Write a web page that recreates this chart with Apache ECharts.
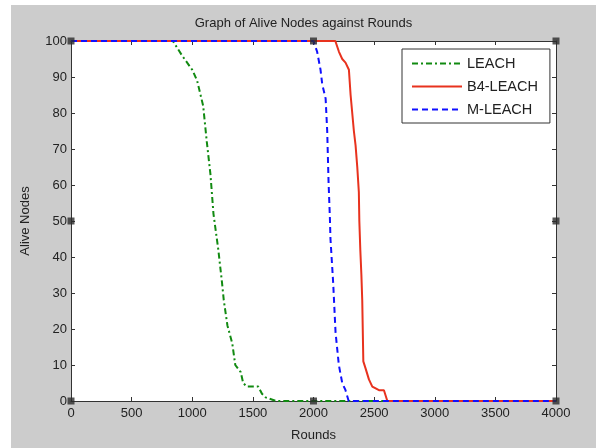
<!DOCTYPE html>
<html>
<head>
    <meta charset="UTF-8">
    <title>Graph of Alive Nodes against Rounds</title>
    <script src="https://cdn.jsdelivr.net/npm/echarts@6/dist/echarts.min.js"></script>
    <style>
        body { margin: 0; background: #ffffff; }
        #main { position: absolute; left: 11px; top: 5px; width: 585px; height: 443px; }
    </style>
</head>
<body>
    <div id="main"></div>
    <script>
        // Data: [round, alive nodes]
        var leach = [[0, 100], [840, 100], [915, 96], [1000, 92], [1040, 89], [1090, 82], [1120, 72],
            [1150, 63], [1175, 52], [1215, 42], [1245, 33], [1260, 28], [1290, 21], [1330, 16],
            [1355, 10], [1400, 8], [1420, 5], [1450, 4], [1545, 4], [1575, 2], [1605, 1],
            [1690, 0], [4000, 0]];
        var b4leach = [[0, 100], [2180, 100], [2210, 97], [2237, 95], [2264, 94], [2292, 92],
            [2306, 85], [2333, 75], [2347, 71], [2361, 65], [2374, 58], [2378, 50], [2386, 42],
            [2395, 35], [2402, 28], [2411, 11], [2430, 9], [2457, 6], [2485, 4], [2540, 3],
            [2581, 3], [2609, 0], [4000, 0]];
        var mleach = [[0, 100], [2000, 100], [2030, 97], [2058, 92], [2072, 88], [2100, 84],
            [2113, 75], [2124, 61], [2135, 51], [2140, 45], [2162, 33], [2182, 19], [2209, 10],
            [2237, 5], [2264, 3], [2290, 0], [4000, 0]];
        // figure-editing handles at the axes corners and midpoints
        var handles = [[0, 100], [2000, 100], [4000, 100], [0, 50], [4000, 50], [0, 0], [2000, 0], [4000, 0]];

        var chart = echarts.init(document.getElementById('main'));
        var axisColor = '#333333';
        var font = 'Liberation Sans, Arial, sans-serif';

        var option = {
            backgroundColor: '#cccccc',
            animation: false,
            title: {
                text: 'Graph of Alive Nodes against Rounds',
                left: 'center',
                top: 7,
                textStyle: { fontFamily: font, fontSize: 13, fontWeight: 'normal', color: '#222' }
            },
            legend: {
                data: ['LEACH', 'B4-LEACH', 'M-LEACH'],
                orient: 'vertical',
                left: 391,
                top: 44,
                width: 148,
                padding: [7, 12, 6, 9],
                itemWidth: 50,
                itemHeight: 14,
                itemGap: 8,
                itemStyle: { opacity: 0 },
                backgroundColor: '#ffffff',
                borderColor: '#333333',
                borderWidth: 1,
                borderRadius: 0,
                textStyle: { fontFamily: font, fontSize: 14.5, color: '#222' }
            },
            grid: { left: 60, top: 36, right: 40, bottom: 47, backgroundColor: '#ffffff', show: true, borderWidth: 0 },
            xAxis: [{
                type: 'value', min: 0, max: 4000, interval: 500,
                name: 'Rounds', nameLocation: 'middle', nameGap: 28,
                nameTextStyle: { fontFamily: font, fontSize: 13, color: '#222' },
                axisLine: { onZero: false, lineStyle: { color: axisColor, width: 1 } },
                axisTick: { inside: true, length: 4, lineStyle: { color: axisColor } },
                axisLabel: {
                    fontFamily: font, fontSize: 13, color: '#222', margin: 6,
                    formatter: function (v) { return String(v); }
                },
                splitLine: { show: false }
            }, {
                type: 'value', min: 0, max: 4000, interval: 500, position: 'top',
                axisLine: { onZero: false, lineStyle: { color: axisColor, width: 1 } },
                axisTick: { inside: true, length: 4, lineStyle: { color: axisColor } },
                axisLabel: { show: false },
                splitLine: { show: false }
            }],
            yAxis: [{
                type: 'value', min: 0, max: 100, interval: 10,
                name: 'Alive Nodes', nameLocation: 'middle', nameGap: 39,
                nameTextStyle: { fontFamily: font, fontSize: 13, color: '#222' },
                axisLine: { show: true, onZero: false, lineStyle: { color: axisColor, width: 1 } },
                axisTick: { show: true, inside: true, length: 4, lineStyle: { color: axisColor } },
                axisLabel: { fontFamily: font, fontSize: 13, color: '#222', margin: 4 },
                splitLine: { show: false }
            }, {
                type: 'value', min: 0, max: 100, interval: 10, position: 'right',
                axisLine: { show: true, onZero: false, lineStyle: { color: axisColor, width: 1 } },
                axisTick: { show: true, inside: true, length: 4, lineStyle: { color: axisColor } },
                axisLabel: { show: false },
                splitLine: { show: false }
            }],
            series: [
                {
                    name: 'LEACH', type: 'line', data: leach, symbol: 'none',
                    lineStyle: { color: '#118a11', width: 2, type: [6, 3, 2, 3] },
                    itemStyle: { color: '#118a11' }
                },
                {
                    name: 'B4-LEACH', type: 'line', data: b4leach, symbol: 'none',
                    lineStyle: { color: '#e8321e', width: 2, type: 'solid' },
                    itemStyle: { color: '#e8321e' }
                },
                {
                    name: 'M-LEACH', type: 'line', data: mleach, symbol: 'none',
                    lineStyle: { color: '#1010ff', width: 2, type: [6, 4] },
                    itemStyle: { color: '#1010ff' }
                },
                {
                    name: 'handles', type: 'scatter', data: handles, symbol: 'rect', symbolSize: 7,
                    itemStyle: { color: '#2a2a2a' }, silent: true, z: 5
                }
            ]
        };
        chart.setOption(option);
    </script>
</body>
</html>
